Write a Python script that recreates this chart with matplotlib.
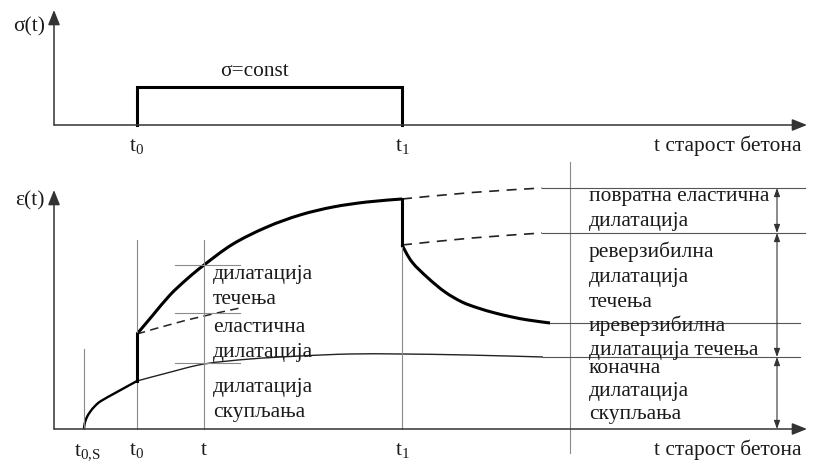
import matplotlib
matplotlib.use("Agg")
import matplotlib.pyplot as plt
from matplotlib.path import Path
from matplotlib.patches import PathPatch

plt.rcParams['font.family'] = ['Liberation Serif', 'DejaVu Serif']
plt.rcParams['mathtext.fontset'] = 'custom'
plt.rcParams['mathtext.rm'] = 'Liberation Serif'
plt.rcParams['mathtext.it'] = 'Liberation Serif'

# characteristic times (horizontal position along the age axis)
T0S, T0, T, T1 = 84, 137, 204, 402
T_SPLIT, T_MAX = 570, 807

# stress history: constant load between t0 and t1
STRESS = 38

# shrinkage strain (starts at t0,s)
shrink_t = [84, 84.6, 86.5, 90, 95, 101, 117, 137, 167, 204, 250, 300, 350, 402, 467, 543]
shrink_e = [0, 5, 11, 17, 23, 28, 37, 48, 56, 65, 70, 73, 75, 75, 74, 72]

# total strain under load (t0 .. t1)
total_t = [137, 153, 170, 187, 204, 233, 267, 300, 333, 367, 402]
total_e = [95, 114, 134, 150, 164, 185, 202, 214, 222, 227, 230]

# elastic strain continuation after loading
elastic_t = [137, 187, 240]
elastic_e = [95, 109, 121]

# strain after unloading (recovery)
recov_t = [402, 412, 428, 445, 462, 478, 495, 512, 528, 550]
recov_e = [184, 167, 151, 137, 127, 121, 116, 112, 109, 106]

# hypothetical continuation without unloading
upper_t = [402, 472, 542]
upper_e = [230, 236.5, 241]
lower_t = [402, 472, 542]
lower_e = [184, 191, 196]

# final strain levels on the right
levels = [241, 196, 106, 72]
level_start = [542, 542, 550, 543]
level_end = [805, 805, 800, 800]

# levels marked by short ticks at time t
tick_levels = [164, 116, 66]

right_labels = ["повратна еластична", "дилатација", "реверзибилна", "дилатација",
                "течења", "иреверзибилна", "дилатација течења", "коначна",
                "дилатација", "скупљања"]
right_label_y = [201, 226, 257, 282, 307, 331, 355, 373, 396, 419]

left_labels = ["дилатација", "течења", "еластична", "дилатација", "дилатација", "скупљања"]
left_label_y = [279, 304, 332, 357, 392, 417]

tick_times = [T0S, T0, T, T1]
tick_names = [r"$\mathrm{t}_{0{,}\mathrm{S}}$", r"$\mathrm{t}_0$", r"$\mathrm{t}$", r"$\mathrm{t}_1$"]

W, H = 824, 461
fig = plt.figure(figsize=(W / 100, H / 100), dpi=100)
ax = fig.add_axes([0, 0, 1, 1])
ax.set_xlim(0, W)
ax.set_ylim(H, 0)
ax.axis('off')

BASE_TOP = 125
BASE_BOT = 429
X_AXIS = 54

def yt(v):
    return BASE_TOP - v

def yb(v):
    if isinstance(v, (list, tuple)):
        return [BASE_BOT - a for a in v]
    return BASE_BOT - v

AXC = '#333333'
THIN = '#8a8a8a'
TXT = '#1a1a1a'
FS = 15.4

def smooth(xs, ys, **kw):
    """Smooth curve through the given points (Catmull-Rom as cubic Bezier)."""
    pts = list(zip(xs, ys))
    n = len(pts)
    verts = [pts[0]]
    codes = [Path.MOVETO]
    for i in range(n - 1):
        p0 = pts[i - 1] if i > 0 else pts[i]
        p1, p2 = pts[i], pts[i + 1]
        p3 = pts[i + 2] if i + 2 < n else pts[i + 1]
        c1 = (p1[0] + (p2[0] - p0[0]) / 6, p1[1] + (p2[1] - p0[1]) / 6)
        c2 = (p2[0] - (p3[0] - p1[0]) / 6, p2[1] - (p3[1] - p1[1]) / 6)
        verts += [c1, c2, p2]
        codes += [Path.CURVE4] * 3
    ax.add_patch(PathPatch(Path(verts, codes), fill=False, capstyle='butt', **kw))

def axis_arrow(x0, y0, x1, y1):
    ax.annotate('', xy=(x1, y1), xytext=(x0, y0),
                arrowprops=dict(arrowstyle='-|>,head_length=0.75,head_width=0.3',
                                mutation_scale=12, lw=1.1, color=AXC,
                                shrinkA=0, shrinkB=0))

# ---------- stress diagram ----------
axis_arrow(X_AXIS, BASE_TOP, X_AXIS, 10)
axis_arrow(X_AXIS, BASE_TOP, T_MAX, BASE_TOP)
ax.plot([T0, T0, T1, T1], [yt(0), yt(STRESS), yt(STRESS), yt(0)],
        color='black', lw=2.2, solid_joinstyle='miter')
ax.text((T0 + T1) / 2 - 15, 76, "σ=const", fontsize=FS, color=TXT, ha='center', va='baseline')
ax.text(45, 31, "σ(t)", fontsize=FS, color=TXT, ha='right', va='baseline')
ax.text(T0, 151, r"$\mathrm{t}_0$", fontsize=FS, color=TXT, ha='center', va='baseline')
ax.text(T1, 151, r"$\mathrm{t}_1$", fontsize=FS, color=TXT, ha='center', va='baseline')
ax.text(802, 151, "t старост бетона", fontsize=FS, color=TXT, ha='right', va='baseline')

# ---------- strain diagram ----------
axis_arrow(X_AXIS, BASE_BOT, X_AXIS, 190)
axis_arrow(X_AXIS, BASE_BOT, T_MAX, BASE_BOT)
ax.text(45, 205, "ε(t)", fontsize=FS, color=TXT, ha='right', va='baseline')

# thin vertical guides
ax.plot([T0S, T0S], yb([0, 80]), color=THIN, lw=0.8)
ax.plot([T0, T0], yb([0, 189]), color=THIN, lw=0.8)
ax.plot([T, T], yb([0, 189]), color=THIN, lw=0.8)
ax.plot([T1, T1], yb([0, 230]), color=THIN, lw=0.8)
ax.plot([T_SPLIT, T_SPLIT], yb([-24, 267]), color=THIN, lw=0.8)

# short ticks at time t
for lv in tick_levels:
    ax.plot([175, 240], [yb(lv), yb(lv)], color=THIN, lw=0.8)

# right-hand level lines
for lv, xs, xe in zip(levels, level_start, level_end):
    ax.plot([xs, xe], [yb(lv), yb(lv)], color='#555555', lw=0.8)

# shrinkage curve
i0 = shrink_t.index(T0)
smooth(shrink_t[:i0 + 1], yb(shrink_e[:i0 + 1]), color='black', lw=1.7)
smooth(shrink_t[i0:], yb(shrink_e[i0:]), color='#222222', lw=1.0)

# elastic jump at loading and total strain
ax.plot([T0, T0], [yb(shrink_e[i0]), yb(total_e[0])], color='black', lw=2.2)
smooth(total_t, yb(total_e), color='black', lw=2.2)
smooth(elastic_t, yb(elastic_e), color='#222222', lw=1.1, linestyle=(0, (5.5, 3.5)))

# unloading: elastic recovery and creep recovery
ax.plot([T1, T1], [yb(total_e[-1]), yb(recov_e[0])], color='black', lw=2.2)
smooth(recov_t, yb(recov_e), color='black', lw=2.2)
smooth(upper_t, yb(upper_e), color='#222222', lw=1.2, linestyle=(0, (6, 4.5)))
smooth(lower_t, yb(lower_e), color='#222222', lw=1.2, linestyle=(0, (6, 4.5)))

# double arrows for strain components
spans = [(levels[0], levels[1]), (levels[1], levels[3]), (levels[3], 0)]
for a, b in spans:
    ax.annotate('', xy=(777, yb(b)), xytext=(777, yb(a)),
                arrowprops=dict(arrowstyle='<|-|>,head_length=0.5,head_width=0.18',
                                mutation_scale=10, lw=0.8, color='#333333',
                                shrinkA=0, shrinkB=0))

# labels
for s, y in zip(left_labels, left_label_y):
    ax.text(213, y, s, fontsize=FS, color=TXT, ha='left', va='baseline')
for s, y in zip(right_labels, right_label_y):
    ax.text(589, y, s, fontsize=FS, color=TXT, ha='left', va='baseline')
for t, s in zip(tick_times, tick_names):
    ax.text(t + (3 if t == T0S else 0), 455, s, fontsize=FS, color=TXT, ha='center', va='baseline')
ax.text(802, 455, "t старост бетона", fontsize=FS, color=TXT, ha='right', va='baseline')

fig.savefig("out.png", dpi=100, facecolor='white')
